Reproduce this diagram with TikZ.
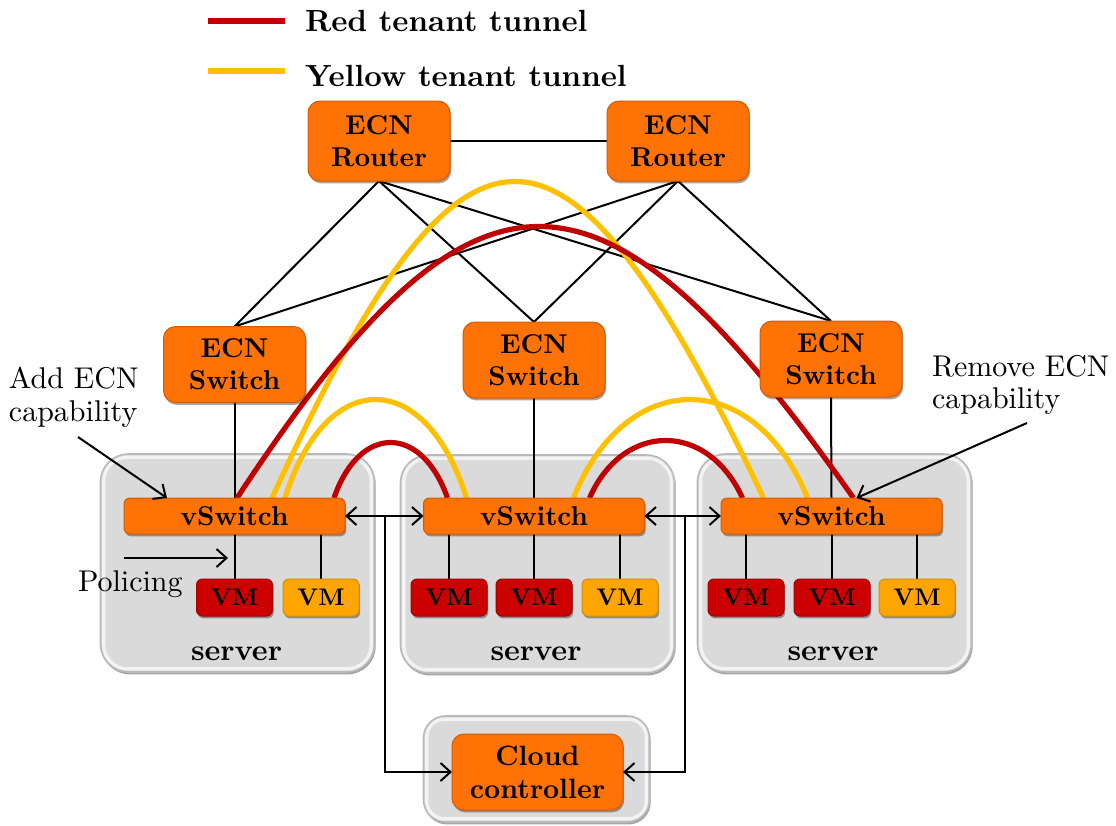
\documentclass[tikz,border=0pt]{standalone}
\usepackage{fontspec}
\setmainfont{lmroman10-regular}[Extension=.otf, BoldFont=lmroman10-bold]
\usetikzlibrary{arrows.meta,shadows}
\definecolor{ecnorange}{RGB}{255,114,5}
\definecolor{ecnedge}{RGB}{215,90,0}
\definecolor{tunred}{RGB}{192,0,0}
\definecolor{tunyellow}{RGB}{255,192,0}
\definecolor{vmred}{RGB}{204,0,0}
\definecolor{vmyellow}{RGB}{255,165,0}
\definecolor{srvgray}{RGB}{218,218,218}
\pgfdeclarelayer{bg}\pgfdeclarelayer{mid}
\pgfsetlayers{bg,mid,main}
\begin{document}
\begin{tikzpicture}[x=0.5pt,y=-0.5pt,
  every node/.style={inner sep=0pt, outer sep=0pt},
  shadowed/.style={drop shadow={shadow xshift=0.6pt,shadow yshift=-1.2pt,opacity=0.35,fill=black}},
  obox/.style={shadowed, rectangle, rounded corners=6pt, fill=ecnorange, draw=ecnedge, line width=0.5pt, align=center, font=\fontsize{13.6}{16}\selectfont\bfseries},
  router/.style={obox, minimum width=71pt, minimum height=40pt},
  ecnswitch/.style={obox, minimum width=71pt, minimum height=38pt},
  vswitch/.style={obox, rounded corners=3pt, minimum width=110.5pt, minimum height=18pt},
  vm/.style={shadowed, rectangle, rounded corners=3pt, minimum width=38pt, minimum height=18.5pt, line width=0.5pt, font=\fontsize{12}{14}\selectfont\bfseries},
  redvm/.style={vm, fill=vmred, draw=vmred!80!black},
  yelvm/.style={vm, fill=vmyellow, draw=vmyellow!85!black},
  server/.style={shadowed, rectangle, rounded corners=14pt, fill=srvgray, draw=gray!55, line width=0.8pt, minimum width=137pt, minimum height=109pt},
  ccbox/.style={shadowed, rectangle, rounded corners=11pt, fill=srvgray, draw=gray!55, line width=0.8pt, minimum width=113pt, minimum height=53pt},
  rim/.style={draw=white, opacity=0.7, line width=1.6pt},
  srvlabel/.style={font=\fontsize{15}{18}\selectfont\bfseries},
  note/.style={font=\fontsize{15}{16.3}\selectfont, align=left},
  legendtext/.style={font=\fontsize{15.3}{18}\selectfont\bfseries},
  link/.style={line width=1pt, black},
  tunnel/.style={line width=2.6pt},
  arr/.style={line width=1pt, -{Straight Barb[length=5pt,width=9pt]}},
  darr/.style={line width=1pt, {Straight Barb[length=5pt,width=9pt]}-{Straight Barb[length=5pt,width=9pt]}},
]
\useasboundingbox (0,0) rectangle (1116,826);

% ---------- background boxes ----------
\begin{pgfonlayer}{bg}
\node[server] (srv1) at (237.5,563) {};
\node[server] (srv2) at (537.5,564) {};
\node[server] (srv3) at (834.5,563) {};
\node[ccbox] (ccb) at (536.5,769) {};
\foreach \b in {srv1,srv2,srv3}{
  \draw[rim, rounded corners=12pt] ([shift={(1.6pt,-1.6pt)}]\b.north west) rectangle ([shift={(-1.6pt,1.6pt)}]\b.south east);
}
\draw[rim, rounded corners=9pt] ([shift={(1.6pt,-1.6pt)}]ccb.north west) rectangle ([shift={(-1.6pt,1.6pt)}]ccb.south east);
\end{pgfonlayer}

% ---------- legend ----------
\coordinate (lr1) at (208,21);
\coordinate (lr2) at (285,21);
\coordinate (ly1) at (208,71);
\coordinate (ly2) at (285,71);
\draw[tunnel, tunred] (lr1) -- (lr2);
\draw[tunnel, tunyellow] (ly1) -- (ly2);
\node[legendtext, anchor=west] (legr) at (305,21) {Red tenant tunnel};
\node[legendtext, anchor=west] (legy) at (305,76) {Yellow tenant tunnel};

% ---------- routers and switches ----------
\node[router] (r1) at (379,141) {ECN\\Router};
\node[router] (r2) at (678,141) {ECN\\Router};
\node[ecnswitch] (s1) at (234.5,364.5) {ECN\\Switch};
\node[ecnswitch] (s2) at (534,360) {ECN\\Switch};
\node[ecnswitch] (s3) at (831,359) {ECN\\Switch};

% ---------- vSwitches ----------
\node[vswitch] (vs1) at (234.5,516) {vSwitch};
\node[vswitch] (vs2) at (534,516) {vSwitch};
\node[vswitch] (vs3) at (831.5,516) {vSwitch};

% ---------- VMs ----------
\node[redvm] (vm11) at (234.5,597.5) {VM};
\node[yelvm] (vm12) at (321,597.5) {VM};
\node[redvm] (vm21) at (449,597.5) {VM};
\node[redvm] (vm22) at (534,597.5) {VM};
\node[yelvm] (vm23) at (620,597.5) {VM};
\node[redvm] (vm31) at (746,597.5) {VM};
\node[redvm] (vm32) at (832,597.5) {VM};
\node[yelvm] (vm33) at (917,597.5) {VM};

% ---------- server labels ----------
\node[srvlabel, anchor=base] (sl1) at (236.5,660) {server};
\node[srvlabel, anchor=base] (sl2) at (536,660) {server};
\node[srvlabel, anchor=base] (sl3) at (833,660) {server};

% ---------- cloud controller ----------
\node[obox, minimum width=85.5pt, minimum height=38pt, font=\fontsize{14}{16.5}\selectfont\bfseries] (cc) at (537.5,772) {Cloud\\controller};

% ---------- links and tunnels ----------
\begin{pgfonlayer}{mid}
\draw[link] (r1) -- (r2);
\foreach \r in {r1,r2}{
  \foreach \s in {s1,s2,s3}{
    \draw[link] (\r.south) -- (\s.north);
  }
}
\draw[link] (s1.south) -- (vs1.north);
\draw[link] (s2.south) -- (vs2.north);
\draw[link] (s3.south) -- (vs3.north);
\foreach \v/\m in {vs1/vm11,vs1/vm12,vs2/vm21,vs2/vm22,vs2/vm23,vs3/vm31,vs3/vm32,vs3/vm33}{
  \draw[link] (\m.north |- \v.south) -- (\m.north);
}
% yellow tunnels
\draw[tunnel, tunyellow] ([xshift=18.75pt]vs1.north) .. controls (465,76) and (563,76) .. ([xshift=-34pt]vs3.north);
\draw[tunnel, tunyellow] ([xshift=25.25pt]vs1.north) .. controls (325.7,366.7) and (425.3,366.7) .. ([xshift=-33.75pt]vs2.north);
\draw[tunnel, tunyellow] ([xshift=19.75pt]vs2.north) .. controls (625.7,366.7) and (754.3,366.7) .. ([xshift=-12pt]vs3.north);
% red tunnels
\draw[tunnel, tunred] ([xshift=1.25pt]vs1.north) .. controls (475.4,136) and (598.6,136) .. ([xshift=11pt]vs3.north);
\draw[tunnel, tunred] ([xshift=49.75pt]vs1.north) .. controls (359.4,424) and (421.6,424) .. ([xshift=-43.25pt]vs2.north);
\draw[tunnel, tunred] ([xshift=27.75pt]vs2.north) .. controls (623.4,421.3) and (707.6,421.3) .. ([xshift=-44.5pt]vs3.north);
\end{pgfonlayer}

% ---------- control arrows ----------
\draw[darr] (vs1.east) -- (vs2.west);
\draw[darr] (vs2.east) -- (vs3.west);
\coordinate (j1) at (385,516);
\coordinate (j2) at (685,516);
\draw[arr] (j1) |- (cc.west);
\draw[arr] (j2) |- (cc.east);

% ---------- annotations ----------
\node[note, anchor=north west] (addtxt) at (9,367) {Add ECN\\capability};
\coordinate (addtail) at (78,437);
\draw[arr] (addtail) -- ([xshift=-33.75pt]vs1.north);

\node[note, anchor=north west] (remtxt) at (932,355) {Remove ECN\\capability};
\coordinate (remtail) at (1027,423);
\draw[arr] (remtail) -- ([xshift=12.5pt]vs3.north);

\node[note, anchor=base west] (poltxt) at (78,591) {Policing};
\coordinate (poltail) at (124,558);
\coordinate (polhead) at (228,558);
\draw[arr] (poltail) -- (polhead);
\end{tikzpicture}
\end{document}
